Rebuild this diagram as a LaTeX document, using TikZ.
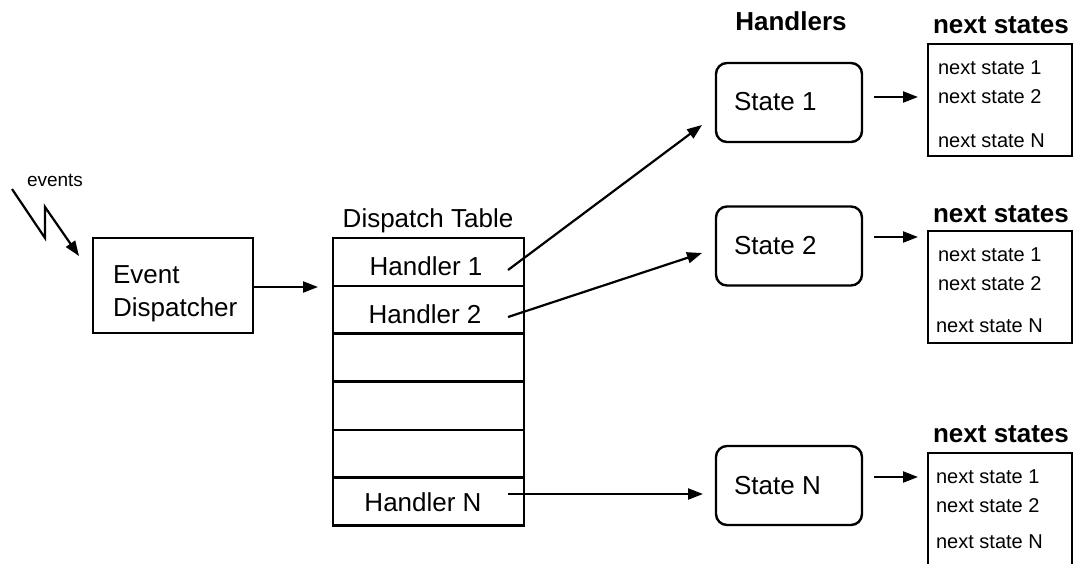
\documentclass[tikz,border=0pt]{standalone}
\usepackage{fontspec}
\setmainfont{Liberation Sans}
\usetikzlibrary{arrows.meta}

\begin{document}
\begin{tikzpicture}[x=1pt, y=-1pt,
  line width=2.2pt,
  arr/.style={-{Triangle[length=15pt,width=11pt]}},
  frame/.style={draw, line width=2.4pt, rectangle, inner sep=0pt},
  statebox/.style={draw, line width=2.4pt, rectangle, rounded corners=11pt,
    minimum width=146pt, minimum height=79pt, inner sep=0pt},
  nsbox/.style={draw, line width=2.4pt, rectangle, anchor=north west,
    minimum width=144pt, inner sep=0pt},
  cell/.style={frame, minimum width=191pt, minimum height=47.8pt},
  bigtxt/.style={font=\fontsize{26}{31}\selectfont, inner sep=0pt},
  smalltxt/.style={font=\fontsize{20}{24}\selectfont, inner sep=0pt, anchor=base west},
  headtxt/.style={font=\bfseries\fontsize{26}{31}\selectfont, inner sep=0pt, anchor=base},
]
\useasboundingbox (0,0) rectangle (1073,563);
\clip (0,0) rectangle (1073,563);

% incoming events
\node[font=\fontsize{19}{23}\selectfont, inner sep=0pt] (evlbl) at (55,180) {events};
\coordinate (ev0) at (12,189);
\coordinate (ev1) at (45,238);
\coordinate (ev2) at (45,207);
\coordinate (ev3) at (79,256);
\draw[arr] (ev0) -- (ev1) -- (ev2) -- (ev3);

% event dispatcher
\node[frame, minimum width=160pt, minimum height=95pt] (ed) at (173,285.5) {};
\node[bigtxt, anchor=base west] (edt1) at (112,283) {Event};
\node[bigtxt, anchor=base west] (edt2) at (112,316) {Dispatcher};

% dispatch table
\node[bigtxt, anchor=base] (dtlbl) at (428,227) {Dispatch Table};
\node[cell] (r1) at (428.5,262) {};
\node[cell] (r2) at (428.5,310) {};
\node[cell] (r3) at (428.5,357.5) {};
\node[cell] (r4) at (428.5,406) {};
\node[cell] (r5) at (428.5,454) {};
\node[cell] (r6) at (428.5,501.5) {};
\node[bigtxt, anchor=base] (h1) at (426,275) {Handler 1};
\node[bigtxt, anchor=base] (h2) at (425,323) {Handler 2};
\node[bigtxt, anchor=base] (hn) at (423,511) {Handler N};

\coordinate (edtip) at (318,287);
\draw[arr] (ed.east |- edtip) -- (edtip);

% handler states
\node[headtxt] (hdl) at (791,30) {Handlers};
\node[statebox] (s1) at (789,102.5) {};
\node[statebox] (s2) at (789,246) {};
\node[statebox] (sn) at (789,485.5) {};
\node[bigtxt, anchor=base west] (s1t) at (733,110) {State 1};
\node[bigtxt, anchor=base west] (s2t) at (733,254) {State 2};
\node[bigtxt, anchor=base west] (snt) at (733,494) {State N};

\coordinate (h1s) at (508,270);
\coordinate (h2s) at (508,317);
\coordinate (hns) at (508,494);
\coordinate (s1in) at (702,125);
\coordinate (s2in) at (702,253);
\coordinate (snin) at (703,494);
\draw[arr] (h1s) -- (s1in);
\draw[arr] (h2s) -- (s2in);
\draw[arr] (hns) -- (snin);

% next states
\node[headtxt] (nl1) at (1001,33) {next states};
\node[headtxt] (nl2) at (1001,222) {next states};
\node[headtxt] (nl3) at (1001,442) {next states};
\node[nsbox, minimum height=112pt] (ns1) at (927,43) {};
\node[nsbox, minimum height=112pt] (ns2) at (927,230) {};
\node[nsbox, minimum height=130pt] (ns3) at (927,452) {};

\node[smalltxt] (a1) at (937,74) {next state 1};
\node[smalltxt] (a2) at (937,103) {next state 2};
\node[smalltxt] (a3) at (937,147) {next state N};
\node[smalltxt] (b1) at (937,261) {next state 1};
\node[smalltxt] (b2) at (937,290) {next state 2};
\node[smalltxt] (b3) at (935,332) {next state N};
\node[smalltxt] (c1) at (935,483) {next state 1};
\node[smalltxt] (c2) at (935,512) {next state 2};
\node[smalltxt] (c3) at (935,548) {next state N};

\coordinate (o1) at (874,97);
\coordinate (o2) at (874,237);
\coordinate (o3) at (874,477);
\coordinate (i1) at (918,97);
\coordinate (i2) at (918,237);
\coordinate (i3) at (918,477);
\draw[arr] (o1) -- (i1);
\draw[arr] (o2) -- (i2);
\draw[arr] (o3) -- (i3);
\end{tikzpicture}
\end{document}
